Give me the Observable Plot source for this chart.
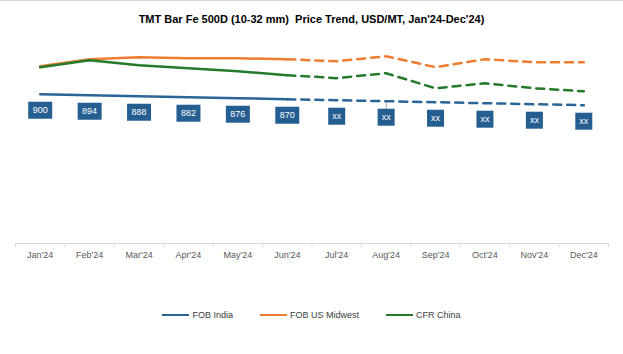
<!DOCTYPE html>
<html>
<head>
<meta charset="utf-8">
<script src="https://cdn.jsdelivr.net/npm/d3@7"></script>
<script src="https://cdn.jsdelivr.net/npm/@observablehq/plot@0.6"></script>
<style>
  body { margin: 0; background: #fff; }
  #wrap { position: relative; width: 623px; height: 354px; box-sizing: border-box; border-top: 1px solid #d9d9d9; font-family: "Liberation Sans", Arial, sans-serif; }
  #title { position: absolute; top: 12px; left: 0; width: 100%; text-align: center; font-weight: bold; font-size: 11px; color: #000; white-space: pre; }
  #plot { position: absolute; top: 35px; left: 0; }
  #legend { position: absolute; top: 309px; left: 0; width: 100%; display: flex; justify-content: center; gap: 27px; font-size: 9px; color: #404040; }
  .item { display: flex; align-items: center; gap: 3px; }
  .sw { width: 27px; height: 2.5px; }
</style>
</head>
<body>
<div id="wrap">
  <div id="title"></div>
  <div id="plot"></div>
  <div id="legend"></div>
</div>
<script>
const titleText = "TMT Bar Fe 500D (10-32 mm)  Price Trend, USD/MT, Jan'24-Dec'24)";
const months = ["Jan'24","Feb'24","Mar'24","Apr'24","May'24","Jun'24","Jul'24","Aug'24","Sep'24","Oct'24","Nov'24","Dec'24"];
const fobIndia = [900, 894, 888, 882, 876, 870, 864, 858, 852, 846, 840, 834];
const fobUSMidwest = [1069, 1111, 1123, 1117, 1117, 1111, 1099, 1129, 1063, 1111, 1093, 1093];
const cfrChina = [1063, 1105, 1075, 1057, 1039, 1015, 997, 1027, 936, 966, 936, 918];
const indiaLabels = ["900","894","888","882","876","870","xx","xx","xx","xx","xx","xx"];
const seriesNames = ["FOB India", "FOB US Midwest", "CFR China"];
const seriesColors = ["#2a6597", "#ed7d31", "#267a2c"];
const lastActual = 5; // Jun'24

document.getElementById("title").textContent = titleText;

const seriesValues = [fobIndia, fobUSMidwest, cfrChina];
const rows = [];
seriesValues.forEach((vals, s) => vals.forEach((v, i) => rows.push({series: seriesNames[s], month: months[i], i, value: v})));

const W = 623, H = 240, mL = 15, mR = 15, mT = 8, mB = 33;
const step = (W - mL - mR) / months.length;

const indiaRows = rows.filter(d => d.series === "FOB India").map(d => ({...d, label: indiaLabels[d.i]}));
const boxSym = (w, h) => ({draw(ctx) { ctx.rect(-w / 2, -h / 2, w, h); }});

const marks = [
  Plot.ruleY([0], {stroke: "#d9d9d9"}),
  Plot.ruleX(months, {x: d => d, y1: 0, y2: -25, dx: -step / 2, stroke: "#d9d9d9"}),
  Plot.ruleX([months[months.length - 1]], {x: d => d, y1: 0, y2: -25, dx: step / 2, stroke: "#d9d9d9"}),
  Plot.axisX({tickSize: 0, tickPadding: 8, fontSize: 9, fill: "#595959", label: null, fontFamily: "Liberation Sans, Arial, sans-serif"})
];
seriesNames.forEach((name, s) => {
  const sr = rows.filter(d => d.series === name);
  marks.push(Plot.line(sr.filter(d => d.i <= lastActual), {x: "month", y: "value", stroke: seriesColors[s], strokeWidth: 2.5}));
  marks.push(Plot.line(sr.filter(d => d.i >= lastActual), {x: "month", y: "value", stroke: seriesColors[s], strokeWidth: 2.5, strokeDasharray: "8,6"}));
});
marks.push(
  Plot.ruleX(indiaRows.filter(d => d.i === 7), {x: "month", y1: "value", y2: "value", insetTop: 2, insetBottom: -8, stroke: "#a6a6a6"}),
  Plot.dot(indiaRows.filter(d => d.label !== "xx"), {x: "month", y: "value", dy: 16, r: 5, symbol: boxSym(24, 17), fill: "#255e91", stroke: "none"}),
  Plot.dot(indiaRows.filter(d => d.label === "xx"), {x: "month", y: "value", dy: 16, r: 5, symbol: boxSym(17, 17), fill: "#255e91", stroke: "none"}),
  Plot.text(indiaRows, {x: "month", y: "value", text: "label", dy: 16, fill: "white", fontSize: 9, fontFamily: "Liberation Sans, Arial, sans-serif"})
);

const chart = Plot.plot({
  width: W, height: H,
  marginLeft: mL, marginRight: mR, marginTop: mT, marginBottom: mB,
  x: {type: "point", domain: months, padding: 0.5, round: false, axis: null, label: null},
  y: {domain: [0, 1200], axis: null},
  style: {background: "transparent", overflow: "visible"},
  marks
});
document.getElementById("plot").appendChild(chart);

const legend = document.getElementById("legend");
seriesNames.forEach((name, s) => {
  const it = document.createElement("div");
  it.className = "item";
  const sw = document.createElement("div");
  sw.className = "sw";
  sw.style.background = seriesColors[s];
  const t = document.createElement("span");
  t.textContent = name;
  it.appendChild(sw); it.appendChild(t);
  legend.appendChild(it);
});
</script>
</body>
</html>
